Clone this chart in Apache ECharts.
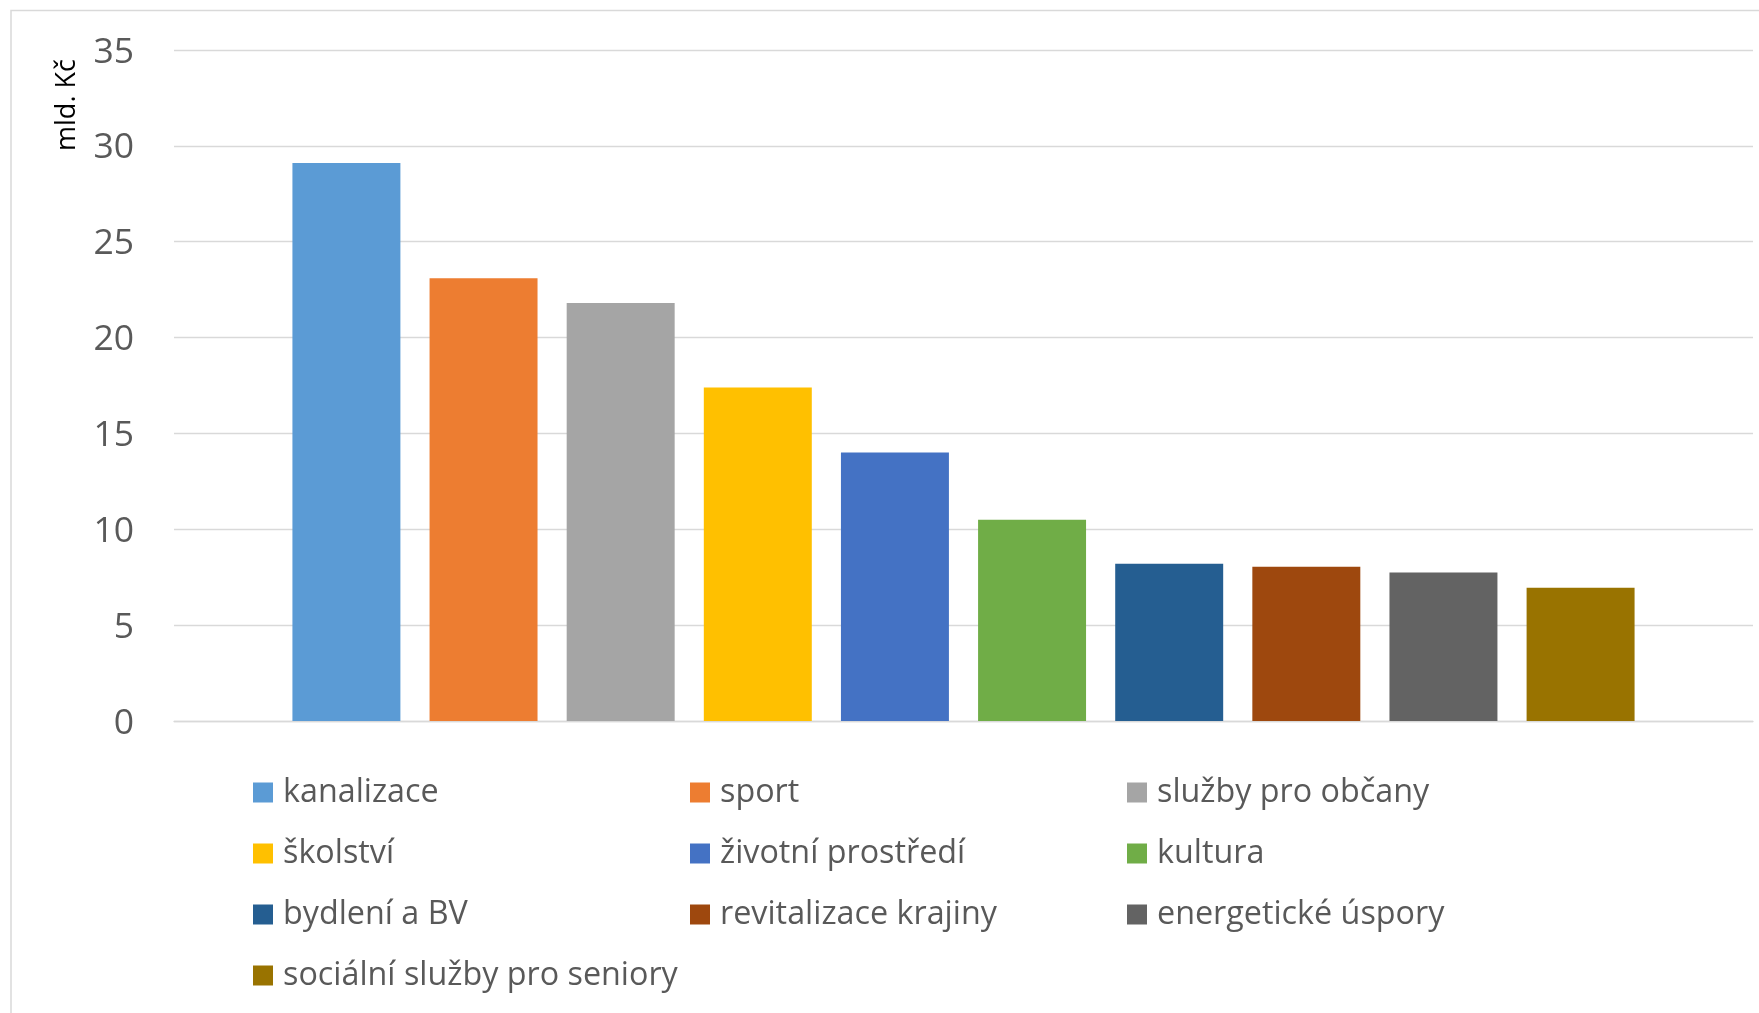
<!DOCTYPE html>
<html>
<head>
<meta charset="utf-8">
<script src="https://cdn.jsdelivr.net/npm/echarts@6/dist/echarts.min.js"></script>
<style>
  html, body { margin: 0; padding: 0; background: #ffffff; }
  #chart { width: 1759px; height: 1013px; }
</style>
</head>
<body>
<div id="chart"></div>
<script>
const categories = [
  'kanalizace', 'sport', 'služby pro občany', 'školství', 'životní prostředí',
  'kultura', 'bydlení a BV', 'revitalizace krajiny', 'energetické úspory',
  'sociální služby pro seniory'
];
const values = [29.1, 23.1, 21.8, 17.4, 14.0, 10.5, 8.2, 8.05, 7.75, 6.95];
const colors = [
  '#5B9BD5', '#ED7D31', '#A5A5A5', '#FFC000', '#4472C4',
  '#70AD47', '#255E91', '#9E480E', '#636363', '#997300'
];
const yMin = 0, yMax = 35, yStep = 5;
const yAxisTitle = 'mld. Kč';

const FONT = '"Open Sans", "Noto Sans", sans-serif';

const chart = echarts.init(document.getElementById('chart'), null, { renderer: 'canvas' });

const series = categories.map((name, i) => ({
  name: name,
  type: 'bar',
  data: [values[i]],
  barGap: '27%',
  barCategoryGap: '15%',
  itemStyle: { color: colors[i] },
  emphasis: { disabled: true }
}));

chart.setOption({
  animation: false,
  backgroundColor: '#ffffff',
  color: colors,
  grid: { left: 174, right: 6, top: 50, bottom: 292, outerBoundsMode: 'none' },
  xAxis: {
    type: 'category',
    data: [''],
    axisLine: { show: true, lineStyle: { color: '#d9d9d9', width: 1.3 } },
    axisTick: { show: false },
    axisLabel: { show: false }
  },
  yAxis: {
    type: 'value',
    min: yMin, max: yMax, interval: yStep,
    axisLine: { show: false },
    axisTick: { show: false },
    axisLabel: {
      color: '#595959', fontSize: 35.5, fontFamily: FONT, margin: 40,
      formatter: '{v|{value}}',
      rich: { v: { color: '#595959', fontSize: 35.5, fontFamily: FONT, padding: [5, 0, 0, 0] } }
    },
    splitLine: { lineStyle: { color: '#d9d9d9', width: 1.3 } }
  },
  legend: {
    data: categories,
    orient: 'horizontal',
    left: 253,
    top: 767,
    width: 1380,
    padding: 0,
    itemGap: 10,
    itemWidth: 20,
    itemHeight: 20,
    icon: 'rect',
    selectedMode: false,
    textStyle: {
      color: '#595959',
      fontSize: 32.3,
      fontFamily: FONT,
      lineHeight: 51,
      width: 397,
      padding: [0, 0, 0, 5]
    }
  },
  graphic: [
    {
      type: 'rect',
      z: -10,
      shape: { x: 11, y: 10.5, width: 1800, height: 1200 },
      style: { fill: 'none', stroke: '#d9d9d9', lineWidth: 1.5 }
    },
    {
      type: 'text',
      x: 67.5,
      y: 105,
      rotation: Math.PI / 2,
      style: {
        text: yAxisTitle,
        fill: '#000000',
        font: '27px ' + FONT,
        textAlign: 'center',
        textVerticalAlign: 'middle'
      }
    }
  ],
  series: series
});
</script>
</body>
</html>
